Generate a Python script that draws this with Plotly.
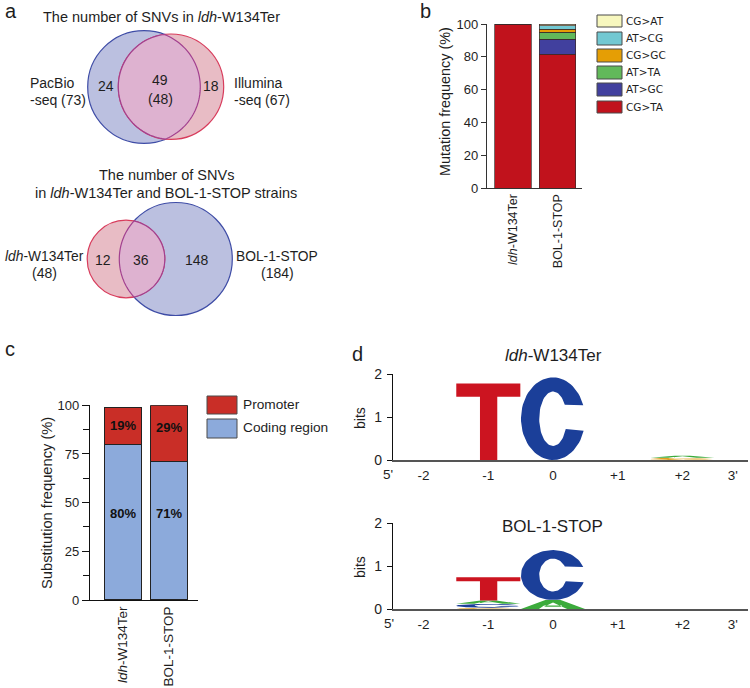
import numpy as np
import plotly.graph_objects as go

W, H = 750, 688
FONT = "Liberation Sans"
INK = "#1e1e1e"

# panel a, venn counts
venn1_names = ["PacBio", "Illumina"]
venn1_totals = [73, 67]
venn1_only = [24, 18]
venn1_shared = 49
venn1_shared_final = 48
venn2_names = ["<i>ldh</i>-W134Ter", "BOL-1-STOP"]
venn2_totals = [48, 184]
venn2_only = [12, 148]
venn2_shared = 36

# panel b
strains = ["<i>ldh</i>-W134Ter", "BOL-1-STOP"]
mut_names = ["CG>TA", "AT>GC", "AT>TA", "CG>GC", "AT>CG", "CG>AT"]
mut_ldh = [100, 0, 0, 0, 0, 0]
mut_bol = [81.6, 9.0, 4.5, 1.8, 2.1, 1.0]
mut_colors = ["#c1121c", "#41409e", "#62b95a", "#e59e05", "#72c8d2", "#f7f7be"]

# panel c
region_names = ["Coding region", "Promoter"]
coding = [80, 71]
promoter = [19, 29]
region_colors = ["#8caadb", "#c92e27"]

# panel d, letters stacked bottom to top at each position
logo_ticks = [-2, -1, 0, 1, 2, 2.78]
logo_ticktext = ["-2", "-1", "0", "+1", "+2", "3'"]
logo1_pos = [-1, 0, 2, 2]
logo1_letters = ["T", "C", "G", "A"]
logo1_bits = [1.78, 1.92, 0.05, 0.05]
logo2_pos = [-1, -1, -1, -1, 0, 0]
logo2_letters = ["G", "C", "A", "T", "A", "C"]
logo2_bits = [0.03, 0.09, 0.08, 0.54, 0.21, 1.16]
letter_colors = {"T": "#cc1420", "C": "#1b3f99", "A": "#3cab3c", "G": "#e0a020"}


def px(x):
    return x / W


def py(y):
    return 1 - y / H


def xdom(left, right):
    return [left / W, right / W]


def ydom(top, bottom):
    return [1 - bottom / H, 1 - top / H]


def glyph(letter):
    # letter outline in a unit box
    if letter == "T":
        return ([0, 1, 1, 0.64, 0.64, 0.37, 0.37, 0, 0],
                [1, 1, 0.825, 0.825, 0, 0, 0.825, 0.825, 1])
    if letter == "A":
        return ([0, 0.38, 0.62, 1, 0.72, 0.64, 0.5, 0.36, 0.64, 0.64, 0.36, 0.28, 0],
                [0, 1, 1, 0, 0, 0.25, 0.72, 0.25, 0.25, 0.4, 0.4, 0, 0])
    a1 = np.radians(np.linspace(19, 343, 70))
    a2 = np.radians(np.linspace(338, 31, 60))
    ox, oy = 0.5 + 0.5 * np.cos(a1), 0.5 + 0.5 * np.sin(a1)
    ix, iy = 0.5 + 0.215 * np.cos(a2), 0.5 + 0.33 * np.sin(a2)
    return np.r_[ox, ix, ox[0]], np.r_[oy, iy, oy[0]]


def logo_traces(pos, letters, bits, xa, ya):
    out = []
    tops = {}
    for p, letter, h in zip(pos, letters, bits):
        base = tops.get(p, 0)
        gx, gy = glyph("C" if letter == "G" else letter)
        out.append(go.Scatter(x=p - 0.495 + 0.99 * np.asarray(gx), y=base + h * np.asarray(gy),
                              mode="lines", line_width=0, fill="toself",
                              fillcolor=letter_colors[letter], xaxis=xa, yaxis=ya,
                              hoverinfo="skip", showlegend=False))
        tops[p] = base + h
    return out


def text(x, y, s, size=14.5, anchor="center", color=INK, family=FONT, angle=0):
    return dict(x=px(x), y=py(y), xref="paper", yref="paper", text=s, showarrow=False,
                xanchor=anchor, yanchor="middle", textangle=angle,
                font=dict(family=family, size=size, color=color))


def circle(cx, cy, r, fill, line):
    return dict(type="circle", xref="paper", yref="paper", x0=px(cx - r), x1=px(cx + r),
                y0=py(cy + r), y1=py(cy - r), fillcolor=fill, line=dict(color=line, width=1.2))


def lens(c1, c2, fill, line):
    # overlap of two circles on the same row, as a closed path
    (x1, y1, r1), (x2, y2, r2) = c1, c2
    d = abs(x2 - x1)
    a = (d * d + r1 * r1 - r2 * r2) / (2 * d)
    t1 = np.arccos(a / r1)
    t2 = np.arccos((d - a) / r2)
    q1 = np.linspace(-t1, t1, 60)
    q2 = np.linspace(np.pi - t2, np.pi + t2, 60)
    xs = np.r_[x1 + r1 * np.cos(q1), x2 + r2 * np.cos(q2)]
    ys = np.r_[y1 + r1 * np.sin(q1), y2 + r2 * np.sin(q2)]
    path = "M " + " L ".join(f"{px(a_):.5f},{py(b_):.5f}" for a_, b_ in zip(xs, ys)) + " Z"
    return dict(type="path", xref="paper", yref="paper", path=path, fillcolor=fill,
                line=dict(color=line, width=1.2))


def swatch(x0, x1, y0, y1, fill):
    return dict(type="rect", xref="paper", yref="paper", x0=px(x0), x1=px(x1), y0=py(y1), y1=py(y0),
                fillcolor=fill, line=dict(color="#4a4a4a", width=1))


fig = go.Figure()

# panel b bars
for name, a, b, col in zip(mut_names, mut_ldh, mut_bol, mut_colors):
    fig.add_trace(go.Bar(x=strains, y=[a, b], name=name, marker_color=col, width=0.82,
                         marker_line=dict(color="#3a2a2a", width=0.7), xaxis="x", yaxis="y", showlegend=False))

# panel c bars
for name, vals, col in zip(region_names, [coding, promoter], region_colors):
    fig.add_trace(go.Bar(x=strains, y=vals, name=name, marker_color=col, width=0.8,
                         marker_line=dict(color="#222222", width=1), xaxis="x2", yaxis="y2", showlegend=False))

# panel d logos
for tr in logo_traces(logo1_pos, logo1_letters, logo1_bits, "x3", "y3"):
    fig.add_trace(tr)
for tr in logo_traces(logo2_pos, logo2_letters, logo2_bits, "x4", "y4"):
    fig.add_trace(tr)

# venn circles, pixel geometry of the panel
top_l, top_r = (144, 87, 56.3), (171, 86.7, 52.7)
bot_l, bot_r = (126, 259, 38.8), (175.8, 259, 56.5)
BLUE, RED, MIX = "#bbc0e0", "#e8bcc5", "#deb2d0"
BLUE_L, RED_L, MIX_L = "#3e4ca6", "#d83c5c", "#a2408f"
shapes = [
    circle(*top_l, BLUE, BLUE_L), circle(*top_r, RED, RED_L), lens(top_l, top_r, MIX, MIX_L),
    circle(*bot_r, BLUE, BLUE_L), circle(*bot_l, RED, RED_L), lens(bot_l, bot_r, MIX, MIX_L),
]

annotations = [
    text(3, 11.5, "a", 20, "left"), text(418, 11.5, "b", 20, "left"),
    text(3, 349, "c", 20, "left"), text(350, 354, "d", 20, "left"),
    text(161.5, 17, "The number of SNVs in <i>ldh</i>-W134Ter"),
    text(28, 83, venn1_names[0], 14, anchor="left"), text(28, 100, f"-seq ({venn1_totals[0]})", 14, anchor="left"),
    text(232, 83, venn1_names[1], 14, anchor="left"), text(232, 100, f"-seq ({venn1_totals[1]})", 14, anchor="left"),
    text(106, 86, str(venn1_only[0]), 14), text(211, 86, str(venn1_only[1]), 14),
    text(160, 80, str(venn1_shared), 14), text(160, 99, f"({venn1_shared_final})", 14),
    text(166, 175, "The number of SNVs"),
    text(166, 193, "in <i>ldh</i>-W134Ter and BOL-1-STOP strains"),
    text(44, 256, venn2_names[0], 13.8), text(44, 273, f"({venn2_totals[0]})", 14),
    text(277, 256, venn2_names[1], 13.8), text(277, 273, f"({venn2_totals[1]})", 14),
    text(103, 260, str(venn2_only[0]), 14), text(197, 260, str(venn2_only[1]), 14),
    text(141, 260, str(venn2_shared), 14),
    text(553, 355, "<i>ldh</i>-W134Ter", 17), text(552, 526, "BOL-1-STOP", 17),
    text(388, 474, "5'", 13.5), text(389, 623, "5'", 13.5),
    text(445, 102, "Mutation frequency (%)", 14.4, angle=-90),
    text(47, 503, "Substitution frequency (%)", 14.7, angle=-90),
    text(360, 418, "bits", 14, angle=-90), text(360, 567, "bits", 14, angle=-90),
]

# panel b legend, top row first
rows_b = [(15, 27), (32, 45), (49, 62), (66, 79), (83, 96), (101, 113)]
for (y0, y1), name, col in zip(rows_b, mut_names[::-1], mut_colors[::-1]):
    shapes.append(swatch(597, 622, y0, y1, col))
    annotations.append(text(624, (y0 + y1) / 2 - 0.5, name.replace(">", "&gt;"), 10.5, "left", family="DejaVu Sans"))

# panel c legend
rows_c = [(396, 414), (419, 438)]
for (y0, y1), name, col in zip(rows_c, region_names[::-1], region_colors[::-1]):
    shapes.append(swatch(207, 237, y0, y1, col))
    annotations.append(text(241, (y0 + y1) / 2 - 1, name, 13.7, "left"))

# panel c value labels sit where the figure has them, not at the segment middles
for i, val in enumerate(promoter):
    annotations.append(dict(x=strains[i], y=[89.5, 88.5][i], xref="x2", yref="y2", text=f"<b>{val}%</b>", showarrow=False,
                            font=dict(family=FONT, size=13, color="#111111")))
for i, val in enumerate(coding):
    annotations.append(dict(x=strains[i], y=44.5, xref="x2", yref="y2", text=f"<b>{val}%</b>", showarrow=False,
                            font=dict(family=FONT, size=13, color="#111111")))

tick_font = dict(family=FONT, size=13, color=INK)
logo_x = dict(tickmode="array", tickvals=logo_ticks, ticktext=logo_ticktext, range=[-2.473, 3.014],
              showgrid=False, zeroline=False, showline=True, linecolor="#555555", linewidth=1.6,
              ticks="", tickfont=dict(family=FONT, size=13.5, color=INK), ticklabelstandoff=2, automargin=False)
logo_y = dict(range=[0, 2], tickvals=[0, 1, 2], showgrid=False, zeroline=False, showline=True,
              linecolor="#111111", linewidth=1.2, ticks="outside", ticklen=5, tickcolor="#111111",
              ticklabelstandoff=2, tickfont=dict(family=FONT, size=14, color=INK), automargin=False)

fig.update_layout(
    width=W, height=H, margin=dict(l=0, r=0, t=0, b=0), paper_bgcolor="white", plot_bgcolor="white",
    barmode="stack", showlegend=False, shapes=shapes, annotations=annotations,
    xaxis=dict(domain=xdom(487, 582), anchor="y", range=[-0.584, 1.55], showgrid=False, showline=True,
               linecolor="#333333", linewidth=1.2, ticks="", tickangle=-90, automargin=False,
               tickfont=dict(family=FONT, size=12.5, color=INK)),
    yaxis=dict(domain=ydom(24, 188), anchor="x", range=[0, 100], dtick=20, showgrid=False, zeroline=False,
               showline=True, linecolor="#333333", linewidth=1.2, ticks="outside", ticklen=5, automargin=False,
               tickcolor="#333333", tickfont=tick_font),
    xaxis2=dict(domain=xdom(90, 198), anchor="y2", range=[-0.71, 1.628], showgrid=False, showline=True,
                linecolor="#111111", linewidth=1.2, ticks="", tickangle=-90, automargin=False,
                tickfont=dict(family=FONT, size=13.5, color=INK)),
    yaxis2=dict(domain=ydom(405.3, 600), anchor="x2", range=[0, 100], dtick=25, showgrid=False, zeroline=False,
                showline=True, linecolor="#111111", linewidth=1.2, ticks="outside", ticklen=7, automargin=False,
                tickcolor="#111111", tickfont=tick_font,
                minor=dict(dtick=12.5, ticks="outside", ticklen=6, tickcolor="#111111")),
    xaxis3=dict(logo_x, domain=xdom(393, 748), anchor="y3"),
    yaxis3=dict(logo_y, domain=ydom(374, 460), anchor="x3"),
    xaxis4=dict(logo_x, domain=xdom(393, 748), anchor="y4"),
    yaxis4=dict(logo_y, domain=ydom(523, 609), anchor="x4"),
)

fig.write_html("out.html", config={"displayModeBar": False}, post_script="document.body.style.margin='0';")
